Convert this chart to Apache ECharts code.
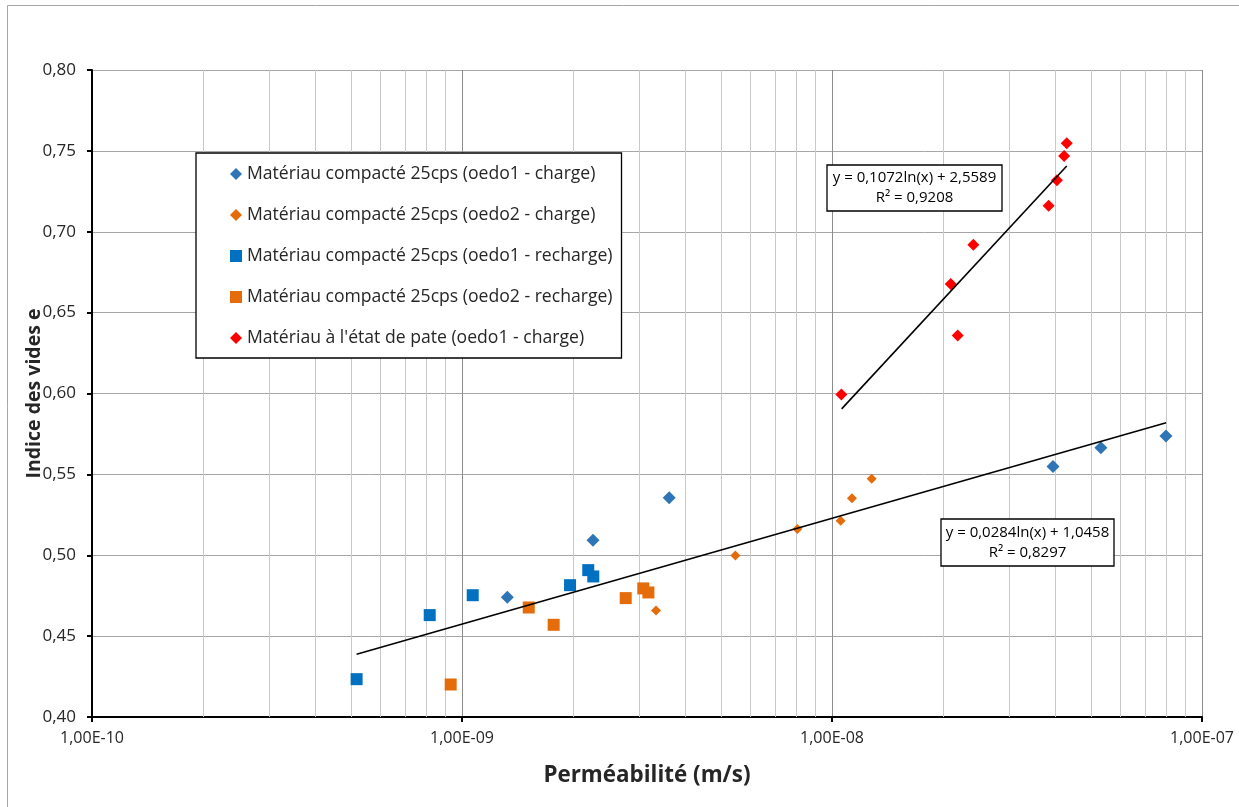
<!DOCTYPE html>
<html>
<head>
<meta charset="utf-8">
<script src="https://cdn.jsdelivr.net/npm/echarts@6/dist/echarts.min.js"></script>
<style>
html,body{margin:0;padding:0;background:#fff;}
#chart{width:1239px;height:807px;}
</style>
</head>
<body>
<div id="chart"></div>
<script>
// ---- data (x: permeability m/s, y: void ratio e) ----
const seriesNames = [
  "Matériau compacté 25cps (oedo1 - charge)",
  "Matériau compacté 25cps (oedo2 - charge)",
  "Matériau compacté 25cps (oedo1 - recharge)",
  "Matériau compacté 25cps (oedo2 - recharge)",
  "Matériau à l'état de pate (oedo1 - charge)"
];
const oedo1ChargeX = [1.326e-9, 2.26e-9, 3.63e-9, 3.957e-8, 5.33e-8, 7.99e-8];
const oedo1ChargeY = [0.4741, 0.5093, 0.5356, 0.5549, 0.5664, 0.5738];
const oedo2ChargeX = [3.345e-9, 5.48e-9, 8.06e-9, 1.055e-8, 1.132e-8, 1.28e-8];
const oedo2ChargeY = [0.4659, 0.4999, 0.5163, 0.5213, 0.5353, 0.5473];
const oedo1RechargeX = [5.19e-10, 8.18e-10, 1.069e-9, 1.959e-9, 2.194e-9, 2.264e-9];
const oedo1RechargeY = [0.4234, 0.4630, 0.4753, 0.4815, 0.4908, 0.4869];
const oedo2RechargeX = [9.32e-10, 1.515e-9, 1.769e-9, 2.77e-9, 3.09e-9, 3.19e-9];
const oedo2RechargeY = [0.4201, 0.4677, 0.4570, 0.4735, 0.4795, 0.4770];
const pateX = [1.06e-8, 2.094e-8, 2.186e-8, 2.41e-8, 3.85e-8, 4.055e-8, 4.24e-8, 4.31e-8];
const pateY = [0.5994, 0.6677, 0.6359, 0.6920, 0.7161, 0.7318, 0.7468, 0.7547];
// trend line end points
const trendCompactX = [5.19e-10, 8.0e-8];
const trendCompactY = [0.4388, 0.5819];
const trendPateX = [1.062e-8, 4.31e-8];
const trendPateY = [0.5905, 0.7406];
const trendCompactLabel = ["y = 0,0284ln(x) + 1,0458", "R² = 0,8297"];
const trendPateLabel = ["y = 0,1072ln(x) + 2,5589", "R² = 0,9208"];
// axis
const xMin = 1e-10, xMax = 1e-7;
const yMin = 0.40, yMax = 0.80, yStep = 0.05;
const minorGridValues = [];
for (let d = -10; d < -7; d++) {
  for (let m = 2; m <= 9; m++) minorGridValues.push(m * Math.pow(10, d));
}

const zip = (xs, ys) => xs.map((x, i) => [x, ys[i]]);
const FONT = '"Open Sans", "Noto Sans", sans-serif';
const TXT = '#262626';

function fmtX(v) {
  const parts = v.toExponential(2).split('e');
  const exp = parseInt(parts[1], 10);
  return parts[0].replace('.', ',') + 'E' + (exp < 0 ? '-' : '+') + String(Math.abs(exp)).padStart(2, '0');
}

const colors = ['#2e75b6', '#e46c0a', '#0070c0', '#e46c0a', '#ff0000'];
const symbols = ['diamond', 'diamond', 'rect', 'rect', 'diamond'];
const sizes = [13, 10, 12, 12, 12];
const xsAll = [oedo1ChargeX, oedo2ChargeX, oedo1RechargeX, oedo2RechargeX, pateX];
const ysAll = [oedo1ChargeY, oedo2ChargeY, oedo1RechargeY, oedo2RechargeY, pateY];

const series = [];

// minor vertical grid lines (2..9 per decade), placed through the log scale
series.push({
  name: 'minorGrid',
  type: 'custom',
  silent: true,
  z: 1,
  clip: true,
  data: minorGridValues.map(v => [v, yMin]),
  renderItem: function (params, api) {
    const p0 = api.coord([api.value(0), yMin]);
    const p1 = api.coord([api.value(0), yMax]);
    const x = Math.round(p0[0]) + 0.5;
    return {
      type: 'line',
      shape: { x1: x, y1: p0[1], x2: x, y2: p1[1] },
      style: { stroke: '#c8c8c8', lineWidth: 1 }
    };
  }
});

seriesNames.forEach((name, i) => series.push({
  name: name,
  type: 'scatter',
  symbol: symbols[i],
  symbolSize: sizes[i],
  itemStyle: { color: colors[i], opacity: 1 },
  data: zip(xsAll[i], ysAll[i]),
  z: 3
}));

series.push({
  name: 'trendCompact', type: 'line', data: zip(trendCompactX, trendCompactY),
  symbol: 'none', lineStyle: { color: '#000', width: 1.6 }, z: 4, silent: true
});
series.push({
  name: 'trendPate', type: 'line', data: zip(trendPateX, trendPateY),
  symbol: 'none', lineStyle: { color: '#000', width: 1.6 }, z: 4, silent: true
});

function eqBox(x, y, w, h, lines) {
  return {
    type: 'group', x: x, y: y, z: 10,
    children: [
      { type: 'rect', z: 10, shape: { x: 0, y: 0, width: w, height: h },
        style: { fill: '#fff', stroke: '#000', lineWidth: 1.3 } },
      { type: 'text', z: 11, x: w / 2, y: h / 2,
        style: { text: lines.join('\n'), font: '15px ' + FONT, fill: '#000',
                 align: 'center', verticalAlign: 'middle', lineHeight: 20 } }
    ]
  };
}

const option = {
  animation: false,
  backgroundColor: '#fff',
  textStyle: { fontFamily: FONT },
  grid: { left: 92, right: 37, top: 70, bottom: 90 },
  xAxis: {
    type: 'log', logBase: 10, min: xMin, max: xMax,
    name: 'Perméabilité (m/s)', nameLocation: 'middle', nameGap: 48, nameMoveOverlap: false,
    nameTextStyle: { fontSize: 22.4, fontWeight: 'bold', color: TXT, fontFamily: FONT },
    axisLine: { show: true, onZero: false, lineStyle: { color: '#000', width: 2 } },
    axisTick: { show: true, length: 5, lineStyle: { color: '#000', width: 2 } },
    axisLabel: { formatter: fmtX, fontSize: 16, color: TXT, margin: 13, fontFamily: FONT },
    splitLine: { show: true, lineStyle: { color: '#8c8c8c', width: 1 } },
    minorTick: { show: false }, minorSplitLine: { show: false }
  },
  yAxis: {
    type: 'value', min: yMin, max: yMax, interval: yStep,
    name: 'Indice des vides e', nameLocation: 'middle', nameGap: 48, nameMoveOverlap: false,
    nameTextStyle: { fontSize: 19.5, fontWeight: 'bold', color: TXT, fontFamily: FONT },
    axisLine: { show: true, onZero: false, lineStyle: { color: '#000', width: 2 } },
    axisTick: { show: true, length: 5, lineStyle: { color: '#000', width: 2 } },
    axisLabel: { formatter: v => v.toFixed(2).replace('.', ','), fontSize: 17, color: TXT, margin: 16, fontFamily: FONT },
    splitLine: { show: true, lineStyle: { color: '#a6a6a6', width: 1 } }
  },
  legend: {
    data: seriesNames.map((n, i) => ({ name: n, icon: symbols[i] })),
    orient: 'vertical', left: 196, top: 153,
    padding: [11, 9, 10, 34],
    itemWidth: 12, itemHeight: 12, itemGap: 21,
    borderColor: '#000', borderWidth: 1.3, backgroundColor: '#fff',
    textStyle: { fontSize: 17.6, color: TXT, lineHeight: 20, fontFamily: FONT },
    selectedMode: false, z: 10
  },
  graphic: [
    { type: 'rect', shape: { x: 7.5, y: 5.5, width: 1240, height: 810 },
      style: { fill: 'none', stroke: '#a6a6a6', lineWidth: 1 }, z: 0, silent: true },
    eqBox(827, 165, 175, 46, trendPateLabel),
    eqBox(941, 519, 173, 47, trendCompactLabel)
  ],
  series: series
};

const chart = echarts.init(document.getElementById('chart'), null, { renderer: 'canvas' });
chart.setOption(option);
</script>
</body>
</html>
